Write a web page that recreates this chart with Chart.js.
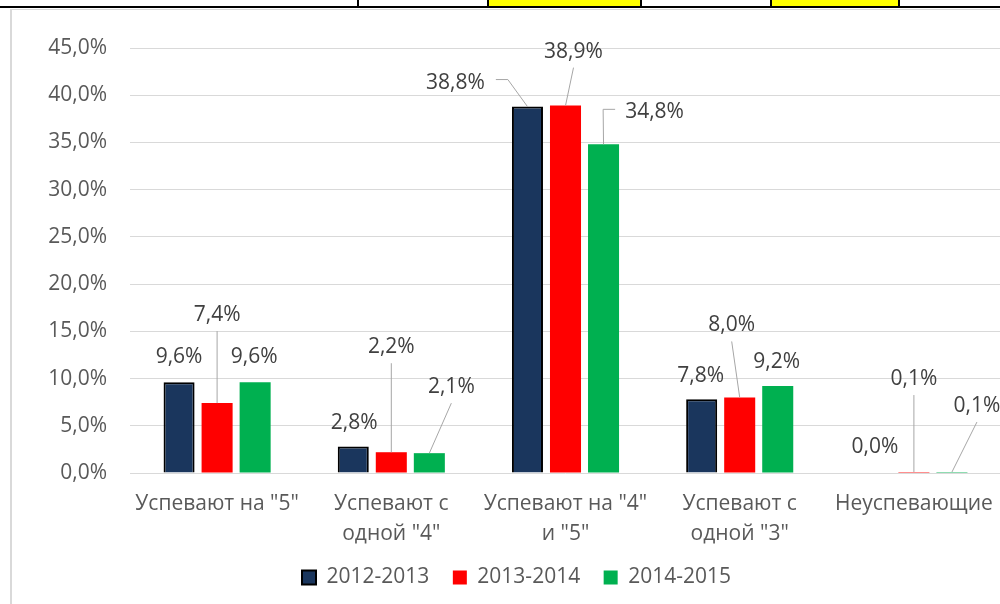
<!DOCTYPE html>
<html>
<head>
<meta charset="utf-8">
<script src="https://cdn.jsdelivr.net/npm/chart.js@4.4.1/dist/chart.umd.min.js"></script>
<style>
  html, body { margin: 0; padding: 0; background: #fff; overflow: hidden; }
  body { width: 1000px; height: 604px; position: relative; }
  #wrap { position: absolute; left: 0; top: 0; width: 1032px; height: 604px; }
  .cell { position: absolute; top: 0; height: 6px; }
  .vline { position: absolute; top: 0; width: 2px; height: 7px; background: #000; }
  #hline { position: absolute; left: 0; top: 6px; width: 1000px; height: 2px; background: #000; }
  #frameTop { position: absolute; left: 11px; top: 9px; width: 989px; height: 1px; background: #d9d9d9; }
  #frameLeft { position: absolute; left: 10px; top: 9px; width: 2px; height: 595px; background: #d9d9d9; }
</style>
</head>
<body>
<div id="wrap"><canvas id="chart" width="1032" height="604"></canvas></div>
<div class="cell" style="left:489px;width:151px;background:#ffff00"></div>
<div class="cell" style="left:772px;width:126px;background:#ffff00"></div>
<div class="vline" style="left:357px"></div>
<div class="vline" style="left:487px"></div>
<div class="vline" style="left:640px"></div>
<div class="vline" style="left:770px"></div>
<div class="vline" style="left:898px"></div>
<div id="hline"></div>
<div id="frameTop"></div>
<div id="frameLeft"></div>
<script>
const categories = [
  ['Успевают на "5"'],
  ['Успевают с', 'одной "4"'],
  ['Успевают на "4"', 'и "5"'],
  ['Успевают с', 'одной "3"'],
  ['Неуспевающие']
];
const seriesNames = ['2012-2013', '2013-2014', '2014-2015'];
const values2012 = [9.6, 2.8, 38.8, 7.8, 0.0];
const values2013 = [7.4, 2.2, 38.9, 8.0, 0.1];
const values2014 = [9.6, 2.1, 34.8, 9.2, 0.1];
const yTicks = [0, 5, 10, 15, 20, 25, 30, 35, 40, 45];

// where each data label sits, relative to the top of its bar (px)
const labelOffsets = [
  [[0, -25], [1, -24], [-72, -24], [-1, -23], [-1, -26]],
  [[0, -88], [0, -105], [8, -54], [-8, -72], [0, -93]],
  [[-1, -25], [22, -66], [51, -32], [-1, -24], [25, -66]]
];

const fmt = (v) => v.toFixed(1).replace('.', ',') + '%';
const FONT = '"Open Sans", "Noto Sans", sans-serif';

Chart.defaults.font.family = FONT;
Chart.defaults.font.size = 21;
Chart.defaults.color = '#595959';

const dataLabels = {
  id: 'dataLabels',
  afterDatasetsDraw(chart) {
    const ctx = chart.ctx;
    ctx.save();
    ctx.font = '21px ' + FONT;
    ctx.textAlign = 'center';
    ctx.textBaseline = 'middle';
    chart.data.datasets.forEach((ds, di) => {
      const meta = chart.getDatasetMeta(di);
      meta.data.forEach((bar, i) => {
        const [dx, dy] = labelOffsets[di][i];
        const lx = bar.x + dx;
        const ly = bar.y + dy;
        const text = fmt(ds.data[i]);
        const w = ctx.measureText(text).width;
        const moved = Math.abs(dx) > 6 || Math.abs(dy + 24) > 6;
        if (moved) {
          ctx.strokeStyle = '#a6a6a6';
          ctx.lineWidth = 1;
          ctx.beginPath();
          if (lx + w / 2 < bar.x - 10) {
            ctx.moveTo(lx + w / 2 + 11, ly - 3);
            ctx.lineTo(lx + w / 2 + 23, ly - 3);
          } else if (lx - w / 2 > bar.x + 10) {
            ctx.moveTo(lx - w / 2 - 10, ly - 3);
            ctx.lineTo(lx - w / 2 - 22, ly - 3);
          } else {
            ctx.moveTo(lx, ly + 16);
          }
          ctx.lineTo(bar.x, bar.y);
          ctx.stroke();
        }
        ctx.fillStyle = '#404040';
        ctx.fillText(text, lx, ly);
      });
    });
    ctx.restore();
  }
};

// the legend in the original sits a little right of the page centre
const legendShift = {
  id: 'legendShift',
  afterLayout(chart) {
    chart.legend.left += 16;
    chart.legend.right += 16;
  }
};

new Chart(document.getElementById('chart'), {
  type: 'bar',
  data: {
    labels: categories,
    datasets: [
      {
        label: seriesNames[0],
        data: values2012,
        backgroundColor: '#1a365d',
        borderColor: '#000000',
        borderWidth: 2
      },
      {
        label: seriesNames[1],
        data: values2013,
        backgroundColor: '#ff0000',
        borderWidth: 0
      },
      {
        label: seriesNames[2],
        data: values2014,
        backgroundColor: '#00b050',
        borderWidth: 0
      }
    ]
  },
  options: {
    responsive: false,
    animation: false,
    categoryPercentage: 0.655,
    barPercentage: 0.816,
    layout: { padding: { top: 48, right: 31, bottom: 6, left: 0 } },
    plugins: {
      legend: {
        position: 'bottom',
        labels: {
          boxWidth: 14,
          boxHeight: 14,
          padding: 23.5,
          color: '#595959',
          font: { size: 21 }
        }
      },
      tooltip: { enabled: false }
    },
    scales: {
      x: {
        grid: { display: false, drawTicks: false },
        border: { display: false },
        ticks: {
          color: '#595959',
          padding: 16,
          maxRotation: 0,
          autoSkip: false,
          font: { size: 21, lineHeight: 1.43 }
        },
        afterFit(scale) {
          scale.height = 604 - 473 - 6 - scale.chart.legend.height;
        }
      },
      y: {
        min: 0,
        max: 45,
        grid: { color: '#d9d9d9', lineWidth: 1, drawTicks: false },
        border: { display: false },
        afterBuildTicks(scale) {
          scale.ticks = yTicks.map((v) => ({ value: v }));
        },
        ticks: {
          color: '#595959',
          padding: 23,
          font: { size: 21 },
          callback: (v) => fmt(v)
        },
        afterFit(scale) {
          scale.width = 130;
        }
      }
    }
  },
  plugins: [dataLabels, legendShift]
});
</script>
</body>
</html>
